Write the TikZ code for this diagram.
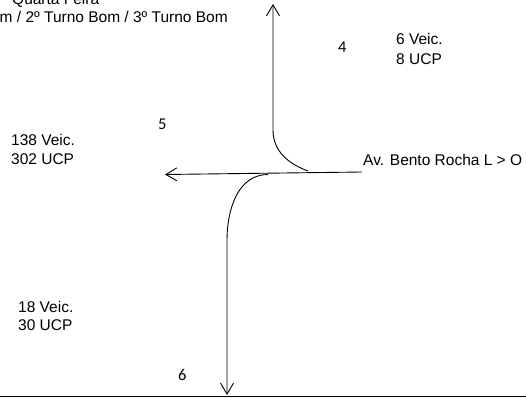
\documentclass[tikz,border=0pt]{standalone}
\usepackage{fontspec}
\setmainfont{Liberation Sans}
\newfontfamily\numfont{Carlito}
\usepackage{tikz}
\usetikzlibrary{arrows.meta,positioning}
\definecolor{ink}{HTML}{000000}
\tikzset{
  lbl/.style={font=\fontsize{15.5}{19}\selectfont,text=ink,inner sep=0pt,
              anchor=base west},
  num/.style={font=\numfont\fontsize{16.5}{19}\selectfont,text=ink,
              inner sep=0pt,anchor=base west},
  road/.style={draw=ink,line width=0.9pt},
  flow/.style={road,-{Straight Barb[length=11pt,width=13pt,line width=0.9pt]}},
}
\begin{document}
\begin{tikzpicture}[x=1pt,y=-1pt]
  \useasboundingbox (0,0) rectangle (526,398);
  % header (cut at the page edge)
  \node[lbl](day)at(12,4.5){Quarta Feira};
  \node[lbl,anchor=base east](shift)at(228,23){m / 2º Turno Bom / 3º Turno Bom};
  % legs of the junction
  \coordinate(nTip)at(273,4);
  \coordinate(nBend)at(273,130);
  \coordinate(nFoot)at(308,171);
  \coordinate(eEnd)at(362,172);
  \coordinate(wTip)at(165,174.5);
  \coordinate(sStart)at(268,174.5);
  \coordinate(sBend)at(227,240);
  \coordinate(sTip)at(227,395);
  \draw[flow](nFoot)to[out=160,in=-90](nBend)--(nTip);
  \draw[flow](eEnd)--(wTip);
  \draw[flow](sStart)to[out=180,in=90](sBend)--(sTip);
  % movement numbers
  \node[num](m4)at(338,53){4};
  \node[num](m5)at(158,130){5};
  \node[num](m6)at(178,380){6};
  % volumes
  \node[lbl](vN)at(396,45){6 Veic.};
  \node[lbl](uN)at(396,65){8 UCP};
  \node[lbl](vW)at(11,146){138 Veic.};
  \node[lbl](uW)at(11,164){302 UCP};
  \node[lbl](vS)at(18,312){18 Veic.};
  \node[lbl](uS)at(18,330){30 UCP};
  \node[lbl](street)at(363,165){Av. Bento Rocha L > O};
  % base line
  \draw[ink,line width=1.3pt](0,396.6)--(526,396.6);
\end{tikzpicture}
\end{document}
